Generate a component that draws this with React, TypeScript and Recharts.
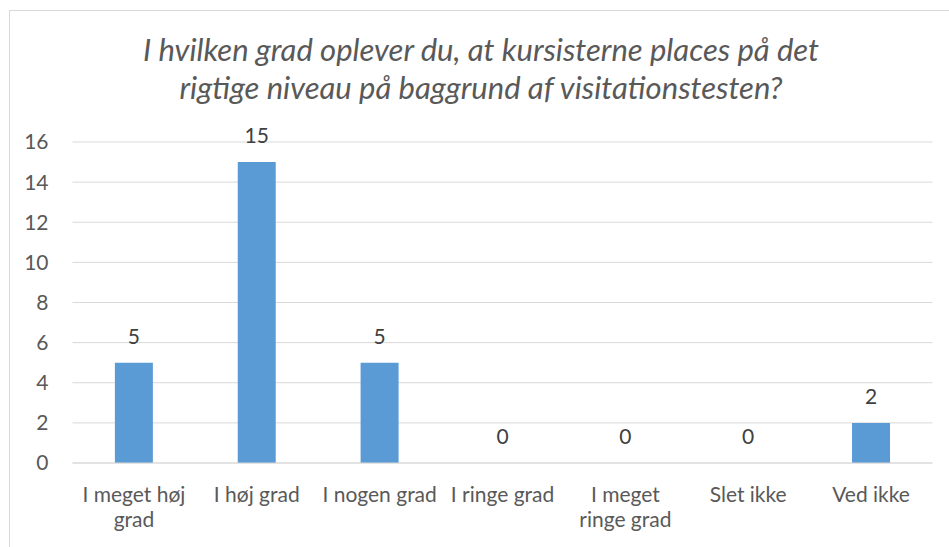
import { ComposedChart, Bar, Line, XAxis, YAxis, CartesianGrid, LabelList } from "recharts";

const categories = [
  "I meget høj grad",
  "I høj grad",
  "I nogen grad",
  "I ringe grad",
  "I meget ringe grad",
  "Slet ikke",
  "Ved ikke",
];
const counts = [5, 15, 5, 0, 0, 0, 2];
const tickLabels: string[][] = [
  ["I meget høj", "grad"],
  ["I høj grad"],
  ["I nogen grad"],
  ["I ringe grad"],
  ["I meget", "ringe grad"],
  ["Slet ikke"],
  ["Ved ikke"],
];
const yTicks = [0, 2, 4, 6, 8, 10, 12, 14, 16];

const data = categories.map((name, i) => ({ name, value: counts[i] }));

const FONT = "Lato, 'Open Sans', sans-serif";

function XTick(props: any) {
  const { x, y, index } = props;
  const lines = tickLabels[index] || [];
  return (
    <text x={x} y={y} textAnchor="middle" fill="#595959" fontSize={21} fontFamily={FONT}>
      {lines.map((l, i) => (
        <tspan key={i} x={x} dy={i === 0 ? 31 : 25}>
          {l}
        </tspan>
      ))}
    </text>
  );
}

// labels drawn on an invisible line so that zero values get a label too
function ValueLabel(props: any) {
  const { x, y, value } = props;
  return (
    <text
      x={Number(x)}
      y={Number(y) - 19}
      textAnchor="middle"
      fill="#404040"
      fontSize={21}
      fontFamily={FONT}
    >
      {value}
    </text>
  );
}

export default function App() {
  return (
    <div style={{ position: "absolute", left: 0, top: 0, width: 949, height: 547, background: "#fff", overflow: "hidden" }}>
      <div
        style={{
          position: "absolute",
          left: 9,
          top: 10,
          width: 960,
          height: 560,
          border: "1px solid #d9d9d9",
        }}
      />
      <div
        style={{
          position: "absolute",
          left: 14,
          top: 30,
          width: 934,
          textAlign: "center",
          fontFamily: FONT,
          fontStyle: "italic",
          fontSize: 31,
          lineHeight: "38px",
          color: "#595959",
          whiteSpace: "nowrap",
        }}
      >
        I hvilken grad oplever du, at kursisterne places på det
        <br />
        rigtige niveau på baggrund af visitationstesten?
      </div>
      <div style={{ position: "absolute", left: 0, top: 0 }}>
        <ComposedChart
          width={949}
          height={547}
          data={data}
          margin={{ top: 142, right: 16.5, bottom: 24, left: 12.5 }}
          barCategoryGap="34.5%"
        >
          <CartesianGrid vertical={false} stroke="#d9d9d9" strokeWidth={1} />
          <XAxis
            dataKey="name"
            interval={0}
            height={60}
            tickLine={false}
            axisLine={{ stroke: "#d9d9d9" }}
            tick={<XTick />}
          />
          <YAxis
            width={60}
            domain={[0, 16]}
            ticks={yTicks}
            tickLine={false}
            axisLine={false}
            tickSize={0}
            tickMargin={24}
            tick={{ fill: "#595959", fontSize: 21, fontFamily: FONT }}
          />
          <Bar dataKey="value" fill="#5b9bd5" isAnimationActive={false} />
          <Line
            dataKey="value"
            stroke="none"
            dot={false}
            activeDot={false}
            isAnimationActive={false}
          >
            <LabelList dataKey="value" content={<ValueLabel />} />
          </Line>
        </ComposedChart>
      </div>
    </div>
  );
}
